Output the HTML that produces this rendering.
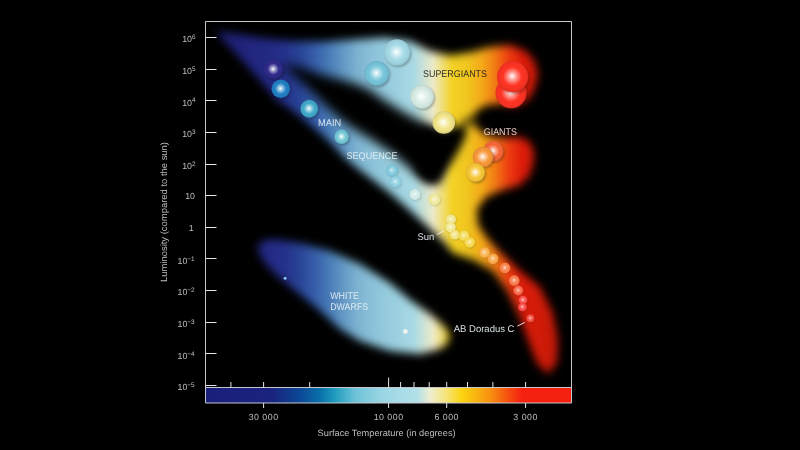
<!DOCTYPE html>
<html><head><meta charset="utf-8"><title>Hertzsprung-Russell Diagram</title>
<style>
html,body{margin:0;padding:0;background:#000;}
body{width:800px;height:450px;overflow:hidden;font-family:"Liberation Sans",sans-serif;}
svg{display:block}
text{font-family:"Liberation Sans",sans-serif;}
</style></head><body>
<svg width="800" height="450" viewBox="0 0 800 450" text-rendering="geometricPrecision">
<defs>
<linearGradient id="cg" gradientUnits="userSpaceOnUse" x1="205.5" y1="0" x2="571.5" y2="0"><stop offset="0.0000" stop-color="#1b1f7c"/><stop offset="0.1817" stop-color="#1a237e"/><stop offset="0.2582" stop-color="#0b4896"/><stop offset="0.3128" stop-color="#0a70aa"/><stop offset="0.3511" stop-color="#1c9abc"/><stop offset="0.4085" stop-color="#6cc2d8"/><stop offset="0.4768" stop-color="#98d4e2"/><stop offset="0.5314" stop-color="#a8dce8"/><stop offset="0.5779" stop-color="#b2e0e8"/><stop offset="0.6134" stop-color="#eeeed0"/><stop offset="0.6544" stop-color="#f6e680"/><stop offset="0.7008" stop-color="#fbd30f"/><stop offset="0.7445" stop-color="#f9b010"/><stop offset="0.7828" stop-color="#f78a10"/><stop offset="0.8265" stop-color="#f55010"/><stop offset="0.8648" stop-color="#f5200f"/><stop offset="1.0000" stop-color="#f5200f"/></linearGradient>
<linearGradient id="pg" gradientUnits="userSpaceOnUse" x1="205.5" y1="0" x2="571.5" y2="0"><stop offset="0.0000" stop-color="#1a1c66"/><stop offset="0.0943" stop-color="#20227a"/><stop offset="0.1762" stop-color="#232a84"/><stop offset="0.2172" stop-color="#25318c"/><stop offset="0.2582" stop-color="#284496"/><stop offset="0.2992" stop-color="#375eaa"/><stop offset="0.3347" stop-color="#4779b6"/><stop offset="0.3730" stop-color="#6196c4"/><stop offset="0.4139" stop-color="#7cb2d0"/><stop offset="0.4631" stop-color="#8ec4da"/><stop offset="0.5178" stop-color="#9bd0e0"/><stop offset="0.5697" stop-color="#aadae4"/><stop offset="0.6216" stop-color="#eceac8"/><stop offset="0.6735" stop-color="#f4d226"/><stop offset="0.7172" stop-color="#f0c41e"/><stop offset="0.7555" stop-color="#f4a818"/><stop offset="0.7910" stop-color="#f27a14"/><stop offset="0.8292" stop-color="#ec3c10"/><stop offset="0.8648" stop-color="#dc1c0a"/><stop offset="0.9276" stop-color="#cc1a08"/><stop offset="1.0000" stop-color="#c01808"/></linearGradient>
<filter id="bl" x="-20%" y="-20%" width="140%" height="140%"><feGaussianBlur stdDeviation="4.5"/></filter>
<filter id="bl2" x="-20%" y="-20%" width="140%" height="140%"><feGaussianBlur stdDeviation="4.5"/></filter>
<filter id="blL" x="-20%" y="-20%" width="140%" height="140%"><feGaussianBlur stdDeviation="5.5"/></filter>
<filter id="blR" x="-30%" y="-30%" width="160%" height="160%"><feGaussianBlur stdDeviation="4.5"/></filter>
<filter id="sb" x="-50%" y="-50%" width="200%" height="200%"><feGaussianBlur stdDeviation="1"/></filter>
<mask id="m" maskUnits="userSpaceOnUse" x="0" y="0" width="800" height="450">
<rect width="800" height="450" fill="#000"/>
<g filter="url(#bl)">
<path d="M217,31 L235,33.5 L265,38.5 L295,41 L325,41.5 L355,39.5 L385,37.5 L410,41 L430,51 L450,55.5 L470,52.5 L490,47 L510,45 L526,51 L535,62 L538,75 L534,90 L527,101 L514,106 L500,104 L487,105 L479,109 L474,115 L474,123 L479,130 L488,136 L505,138 L520,137 L530,142 L534,152 L534,160 L530,175 L520,185 L500,191 L486,197 L477,209 L478,225 L487,238 L499,251 L519,270 L540,287 L553,313 L558,340 L557,363 L548,374 L537,363 L528,340 L520,317 L507,290 L493,271 L474,260 L453,253 L445,243 L426,225 L405,206 L390,193 L373,180 L357,168 L345,158 L334,146 L320,133 L309,124 L296,113 L277,100 L258,78 L236,54 L219,36 Z" fill="#fff"/>
</g>
<g filter="url(#blL)"><path d="M281,64 L300,67 L320,74.5 L337,78.5 L356,84 L370,90 L384,100 L407,114 L425,123 L440,132 L440,184 L425,181 L410,169 L394,155 L372,140 L354,129 L340,119 L328,108 L318,98 L308,88 L297,78 Z" fill="#000"/></g>
<g filter="url(#blR)"><path d="M420,127 L440,129 L455,127 L462,125 L467,129 L465,138 L459,150 L452,162 L444,174 L436,183 L426,182 L416,172 Z" fill="#000"/><ellipse cx="471" cy="121" rx="10" ry="4.5" fill="#000" opacity="0.6" transform="rotate(-12 471 121)"/></g>
<g filter="url(#bl2)"><path d="M257,247 L262,241 L272,239 L300,243 L330,251 L360,264 L390,283 L410,300 L430,314 L444,326 L450,335 L447,344 L440,349 L420,354 L390,351 L360,341 L340,329 L318,309 L298,293 L277,276 L263,261 Z" fill="#fff"/></g>
</mask>
<clipPath id="cp"><rect x="205.5" y="21.5" width="366.0" height="366.0"/></clipPath>
<radialGradient id="s0" cx="0.5" cy="0.5" r="0.5" fx="0.48" fy="0.48"><stop offset="0" stop-color="#ffffff"/><stop offset="0.1" stop-color="#d6d5e8"/><stop offset="0.32" stop-color="#8784bc"/><stop offset="0.6" stop-color="#302b8c"/><stop offset="0.86" stop-color="#2e2986"/><stop offset="1" stop-color="#2b267d"/></radialGradient><radialGradient id="s1" cx="0.5" cy="0.5" r="0.5" fx="0.48" fy="0.48"><stop offset="0" stop-color="#ffffff"/><stop offset="0.1" stop-color="#d2e6f3"/><stop offset="0.32" stop-color="#7eb5dd"/><stop offset="0.6" stop-color="#2080c4"/><stop offset="0.86" stop-color="#1f7bbc"/><stop offset="1" stop-color="#1c72ae"/></radialGradient><radialGradient id="s2" cx="0.5" cy="0.5" r="0.5" fx="0.48" fy="0.48"><stop offset="0" stop-color="#ffffff"/><stop offset="0.1" stop-color="#d9eef4"/><stop offset="0.32" stop-color="#91cee0"/><stop offset="0.6" stop-color="#42aaca"/><stop offset="0.86" stop-color="#3fa3c2"/><stop offset="1" stop-color="#3b97b4"/></radialGradient><radialGradient id="s3" cx="0.5" cy="0.5" r="0.5" fx="0.48" fy="0.48"><stop offset="0" stop-color="#ffffff"/><stop offset="0.1" stop-color="#e3f4f7"/><stop offset="0.32" stop-color="#aedfe7"/><stop offset="0.6" stop-color="#74c8d6"/><stop offset="0.86" stop-color="#6fc0cd"/><stop offset="1" stop-color="#67b2be"/></radialGradient><radialGradient id="s4" cx="0.5" cy="0.5" r="0.5" fx="0.48" fy="0.48"><stop offset="0" stop-color="#ffffff"/><stop offset="0.1" stop-color="#e4f4f8"/><stop offset="0.32" stop-color="#b1deeb"/><stop offset="0.6" stop-color="#78c6dc"/><stop offset="0.86" stop-color="#73bed3"/><stop offset="1" stop-color="#6bb0c4"/></radialGradient><radialGradient id="s5" cx="0.5" cy="0.5" r="0.5" fx="0.48" fy="0.48"><stop offset="0" stop-color="#ffffff"/><stop offset="0.1" stop-color="#edf8fa"/><stop offset="0.32" stop-color="#caeaf0"/><stop offset="0.6" stop-color="#a4dae6"/><stop offset="0.86" stop-color="#9dd1dd"/><stop offset="1" stop-color="#92c2cd"/></radialGradient><radialGradient id="s6" cx="0.5" cy="0.5" r="0.5" fx="0.48" fy="0.48"><stop offset="0" stop-color="#ffffff"/><stop offset="0.1" stop-color="#f7fbfa"/><stop offset="0.32" stop-color="#e8f4f0"/><stop offset="0.6" stop-color="#d8ece6"/><stop offset="0.86" stop-color="#cfe3dd"/><stop offset="1" stop-color="#c0d2cd"/></radialGradient><radialGradient id="s7" cx="0.5" cy="0.5" r="0.5" fx="0.48" fy="0.48"><stop offset="0" stop-color="#ffffff"/><stop offset="0.1" stop-color="#fcfae8"/><stop offset="0.32" stop-color="#f7f0bb"/><stop offset="0.6" stop-color="#f2e58a"/><stop offset="0.86" stop-color="#e8dc84"/><stop offset="1" stop-color="#d7cc7b"/></radialGradient><radialGradient id="s8" cx="0.5" cy="0.5" r="0.5" fx="0.48" fy="0.48"><stop offset="0" stop-color="#ffffff"/><stop offset="0.1" stop-color="#ffd6d3"/><stop offset="0.32" stop-color="#ff8980"/><stop offset="0.6" stop-color="#ff3424"/><stop offset="0.86" stop-color="#f53223"/><stop offset="1" stop-color="#e32e20"/></radialGradient><radialGradient id="s9" cx="0.5" cy="0.5" r="0.5" fx="0.48" fy="0.48"><stop offset="0" stop-color="#ffffff"/><stop offset="0.1" stop-color="#ffd6d3"/><stop offset="0.32" stop-color="#ff8980"/><stop offset="0.6" stop-color="#ff3424"/><stop offset="0.86" stop-color="#f53223"/><stop offset="1" stop-color="#e32e20"/></radialGradient><radialGradient id="s10" cx="0.5" cy="0.5" r="0.5" fx="0.48" fy="0.48"><stop offset="0" stop-color="#ffffff"/><stop offset="0.1" stop-color="#fee1d8"/><stop offset="0.32" stop-color="#fba78d"/><stop offset="0.6" stop-color="#f8683a"/><stop offset="0.86" stop-color="#ee6438"/><stop offset="1" stop-color="#dd5d34"/></radialGradient><radialGradient id="s11" cx="0.5" cy="0.5" r="0.5" fx="0.48" fy="0.48"><stop offset="0" stop-color="#ffffff"/><stop offset="0.1" stop-color="#feead8"/><stop offset="0.32" stop-color="#fbc38d"/><stop offset="0.6" stop-color="#f8983a"/><stop offset="0.86" stop-color="#ee9238"/><stop offset="1" stop-color="#dd8734"/></radialGradient><radialGradient id="s12" cx="0.5" cy="0.5" r="0.5" fx="0.48" fy="0.48"><stop offset="0" stop-color="#ffffff"/><stop offset="0.1" stop-color="#fef4d8"/><stop offset="0.32" stop-color="#fbdf8d"/><stop offset="0.6" stop-color="#f8c83a"/><stop offset="0.86" stop-color="#eec038"/><stop offset="1" stop-color="#ddb234"/></radialGradient><radialGradient id="s13" cx="0.5" cy="0.5" r="0.5" fx="0.47" fy="0.45"><stop offset="0" stop-color="#daeff5"/><stop offset="0.3" stop-color="#a3d7e5"/><stop offset="0.65" stop-color="#83c9dc"/><stop offset="0.9" stop-color="#7cc6da"/><stop offset="1" stop-color="#72b6c9"/></radialGradient><radialGradient id="s14" cx="0.5" cy="0.5" r="0.5" fx="0.47" fy="0.45"><stop offset="0" stop-color="#dff2f6"/><stop offset="0.3" stop-color="#aedde9"/><stop offset="0.65" stop-color="#92d1e2"/><stop offset="0.9" stop-color="#8ccfe0"/><stop offset="1" stop-color="#81bece"/></radialGradient><radialGradient id="s15" cx="0.5" cy="0.5" r="0.5" fx="0.47" fy="0.45"><stop offset="0" stop-color="#f2f9f8"/><stop offset="0.3" stop-color="#ddefee"/><stop offset="0.65" stop-color="#d1e9e7"/><stop offset="0.9" stop-color="#cfe8e6"/><stop offset="1" stop-color="#bed5d4"/></radialGradient><radialGradient id="s16" cx="0.5" cy="0.5" r="0.5" fx="0.47" fy="0.45"><stop offset="0" stop-color="#faf9e3"/><stop offset="0.3" stop-color="#f3efb8"/><stop offset="0.65" stop-color="#efe99f"/><stop offset="0.9" stop-color="#eee89a"/><stop offset="1" stop-color="#dbd58e"/></radialGradient><radialGradient id="s17" cx="0.5" cy="0.5" r="0.5" fx="0.47" fy="0.45"><stop offset="0" stop-color="#fbf8df"/><stop offset="0.3" stop-color="#f4eeae"/><stop offset="0.65" stop-color="#f1e792"/><stop offset="0.9" stop-color="#f0e68c"/><stop offset="1" stop-color="#ddd481"/></radialGradient><radialGradient id="s18" cx="0.5" cy="0.5" r="0.5" fx="0.47" fy="0.45"><stop offset="0" stop-color="#fbf9df"/><stop offset="0.3" stop-color="#f5efb0"/><stop offset="0.65" stop-color="#f2e994"/><stop offset="0.9" stop-color="#f1e88e"/><stop offset="1" stop-color="#ded583"/></radialGradient><radialGradient id="s19" cx="0.5" cy="0.5" r="0.5" fx="0.47" fy="0.45"><stop offset="0" stop-color="#fbf7da"/><stop offset="0.3" stop-color="#f6eba2"/><stop offset="0.65" stop-color="#f3e481"/><stop offset="0.9" stop-color="#f2e37a"/><stop offset="1" stop-color="#dfd170"/></radialGradient><radialGradient id="s20" cx="0.5" cy="0.5" r="0.5" fx="0.47" fy="0.45"><stop offset="0" stop-color="#fcf5cf"/><stop offset="0.3" stop-color="#f7e688"/><stop offset="0.65" stop-color="#f5de5e"/><stop offset="0.9" stop-color="#f4dc55"/><stop offset="1" stop-color="#e0ca4e"/></radialGradient><radialGradient id="s21" cx="0.5" cy="0.5" r="0.5" fx="0.47" fy="0.45"><stop offset="0" stop-color="#fcf4cc"/><stop offset="0.3" stop-color="#f9e27f"/><stop offset="0.65" stop-color="#f6d851"/><stop offset="0.9" stop-color="#f6d648"/><stop offset="1" stop-color="#e2c542"/></radialGradient><radialGradient id="s22" cx="0.5" cy="0.5" r="0.5" fx="0.47" fy="0.45"><stop offset="0" stop-color="#fde9cc"/><stop offset="0.3" stop-color="#fac87f"/><stop offset="0.65" stop-color="#f8b451"/><stop offset="0.9" stop-color="#f8b048"/><stop offset="1" stop-color="#e4a242"/></radialGradient><radialGradient id="s23" cx="0.5" cy="0.5" r="0.5" fx="0.47" fy="0.45"><stop offset="0" stop-color="#fde6cb"/><stop offset="0.3" stop-color="#fabf7c"/><stop offset="0.65" stop-color="#f8a94d"/><stop offset="0.9" stop-color="#f8a444"/><stop offset="1" stop-color="#e4973f"/></radialGradient><radialGradient id="s24" cx="0.5" cy="0.5" r="0.5" fx="0.47" fy="0.45"><stop offset="0" stop-color="#fddbcb"/><stop offset="0.3" stop-color="#faa57c"/><stop offset="0.65" stop-color="#f8844d"/><stop offset="0.9" stop-color="#f87e44"/><stop offset="1" stop-color="#e4743f"/></radialGradient><radialGradient id="s25" cx="0.5" cy="0.5" r="0.5" fx="0.47" fy="0.45"><stop offset="0" stop-color="#fdd8cb"/><stop offset="0.3" stop-color="#fa9e7c"/><stop offset="0.65" stop-color="#f87b4d"/><stop offset="0.9" stop-color="#f87444"/><stop offset="1" stop-color="#e46b3f"/></radialGradient><radialGradient id="s26" cx="0.5" cy="0.5" r="0.5" fx="0.47" fy="0.45"><stop offset="0" stop-color="#fdd4cb"/><stop offset="0.3" stop-color="#fa927c"/><stop offset="0.65" stop-color="#f86c4d"/><stop offset="0.9" stop-color="#f86444"/><stop offset="1" stop-color="#e45c3f"/></radialGradient><radialGradient id="s27" cx="0.5" cy="0.5" r="0.5" fx="0.47" fy="0.45"><stop offset="0" stop-color="#fdcccb"/><stop offset="0.3" stop-color="#fa807c"/><stop offset="0.65" stop-color="#f8534d"/><stop offset="0.9" stop-color="#f84a44"/><stop offset="1" stop-color="#e4443f"/></radialGradient><radialGradient id="s28" cx="0.5" cy="0.5" r="0.5" fx="0.47" fy="0.45"><stop offset="0" stop-color="#fdcbca"/><stop offset="0.3" stop-color="#fa7c79"/><stop offset="0.65" stop-color="#f84d4a"/><stop offset="0.9" stop-color="#f84440"/><stop offset="1" stop-color="#e43f3b"/></radialGradient><radialGradient id="s29" cx="0.5" cy="0.5" r="0.5" fx="0.47" fy="0.45"><stop offset="0" stop-color="#fbccc8"/><stop offset="0.3" stop-color="#f68075"/><stop offset="0.65" stop-color="#f35344"/><stop offset="0.9" stop-color="#f24a3a"/><stop offset="1" stop-color="#df4435"/></radialGradient>
</defs>
<rect width="800" height="450" fill="#000"/>
<g clip-path="url(#cp)">
<rect x="205.5" y="21.5" width="366.0" height="366.0" fill="url(#pg)" mask="url(#m)"/>
<circle cx="274.9" cy="70.95" r="9.3" fill="#0b091f" opacity="0.34" filter="url(#sb)"/><circle cx="273.4" cy="69.25" r="9.5" fill="url(#s0)"/><circle cx="282.25" cy="90.45" r="9.100000000000001" fill="#071c2b" opacity="0.34" filter="url(#sb)"/><circle cx="280.75" cy="88.75" r="9.3" fill="url(#s1)"/><circle cx="310.75" cy="110.45" r="8.700000000000001" fill="#0f252c" opacity="0.34" filter="url(#sb)"/><circle cx="309.25" cy="108.75" r="8.9" fill="url(#s2)"/><circle cx="343.1" cy="138.5" r="7.0" fill="#1a2c2f" opacity="0.34" filter="url(#sb)"/><circle cx="341.6" cy="136.8" r="7.2" fill="url(#s3)"/><circle cx="378.25" cy="75.10000000000001" r="12.100000000000001" fill="#1a2c30" opacity="0.34" filter="url(#sb)"/><circle cx="376.75" cy="73.4" r="12.3" fill="url(#s4)"/><circle cx="398.5" cy="54.1" r="13.0" fill="#243033" opacity="0.34" filter="url(#sb)"/><circle cx="397" cy="52.4" r="13.2" fill="url(#s5)"/><circle cx="423.5" cy="98.5" r="11.700000000000001" fill="#303433" opacity="0.34" filter="url(#sb)"/><circle cx="422" cy="96.8" r="11.9" fill="url(#s6)"/><circle cx="445.25" cy="124.2" r="11.100000000000001" fill="#35321e" opacity="0.34" filter="url(#sb)"/><circle cx="443.75" cy="122.5" r="11.3" fill="url(#s7)"/><circle cx="512.5" cy="94.5" r="15.3" fill="#380b08" opacity="0.34" filter="url(#sb)"/><circle cx="511" cy="92.8" r="15.5" fill="url(#s8)"/><circle cx="514.2" cy="78.4" r="15.4" fill="#380b08" opacity="0.34" filter="url(#sb)"/><circle cx="512.7" cy="76.7" r="15.6" fill="url(#s9)"/><circle cx="494.75" cy="152.95" r="10.100000000000001" fill="#37170d" opacity="0.34" filter="url(#sb)"/><circle cx="493.25" cy="151.25" r="10.3" fill="url(#s10)"/><circle cx="484.5" cy="158.7" r="10.100000000000001" fill="#37210d" opacity="0.34" filter="url(#sb)"/><circle cx="483" cy="157" r="10.3" fill="url(#s11)"/><circle cx="477.0" cy="174.2" r="9.3" fill="#372c0d" opacity="0.34" filter="url(#sb)"/><circle cx="475.5" cy="172.5" r="9.5" fill="url(#s12)"/><circle cx="392.8" cy="171.4" r="5.8" fill="#1b2c30" opacity="0.2" filter="url(#sb)"/><circle cx="392" cy="170.5" r="6.0" fill="url(#s13)"/><circle cx="396.3" cy="182.65" r="5.6000000000000005" fill="#1f2e31" opacity="0.2" filter="url(#sb)"/><circle cx="395.5" cy="181.75" r="5.800000000000001" fill="url(#s14)"/><circle cx="415.8" cy="195.4" r="5.4" fill="#2e3333" opacity="0.2" filter="url(#sb)"/><circle cx="415" cy="194.5" r="5.6000000000000005" fill="url(#s15)"/><circle cx="435.3" cy="200.4" r="5.7" fill="#343322" opacity="0.2" filter="url(#sb)"/><circle cx="434.5" cy="199.5" r="5.9" fill="url(#s16)"/><circle cx="451.8" cy="220.3" r="4.8" fill="#35331f" opacity="0.2" filter="url(#sb)"/><circle cx="451" cy="219.4" r="5.0" fill="url(#s17)"/><circle cx="451.40000000000003" cy="228.20000000000002" r="5.0" fill="#35331f" opacity="0.2" filter="url(#sb)"/><circle cx="450.6" cy="227.3" r="5.2" fill="url(#s18)"/><circle cx="455.5" cy="235.6" r="4.8" fill="#35321b" opacity="0.2" filter="url(#sb)"/><circle cx="454.7" cy="234.7" r="5.0" fill="url(#s19)"/><circle cx="464.8" cy="236.6" r="5.2" fill="#363013" opacity="0.2" filter="url(#sb)"/><circle cx="464" cy="235.7" r="5.4" fill="url(#s20)"/><circle cx="470.40000000000003" cy="243.20000000000002" r="5.2" fill="#362f10" opacity="0.2" filter="url(#sb)"/><circle cx="469.6" cy="242.3" r="5.4" fill="url(#s21)"/><circle cx="485.3" cy="253.4" r="5.2" fill="#372710" opacity="0.2" filter="url(#sb)"/><circle cx="484.5" cy="252.5" r="5.4" fill="url(#s22)"/><circle cx="493.8" cy="259.65" r="5.2" fill="#37240f" opacity="0.2" filter="url(#sb)"/><circle cx="493" cy="258.75" r="5.4" fill="url(#s23)"/><circle cx="505.8" cy="268.9" r="5.2" fill="#371c0f" opacity="0.2" filter="url(#sb)"/><circle cx="505" cy="268" r="5.4" fill="url(#s24)"/><circle cx="515.05" cy="281.4" r="5.2" fill="#371a0f" opacity="0.2" filter="url(#sb)"/><circle cx="514.25" cy="280.5" r="5.4" fill="url(#s25)"/><circle cx="519.05" cy="291.4" r="4.7" fill="#37160f" opacity="0.2" filter="url(#sb)"/><circle cx="518.25" cy="290.5" r="4.9" fill="url(#s26)"/><circle cx="523.8" cy="300.9" r="4.2" fill="#37100f" opacity="0.2" filter="url(#sb)"/><circle cx="523" cy="300" r="4.4" fill="url(#s27)"/><circle cx="523.3" cy="307.9" r="4.2" fill="#370f0e" opacity="0.2" filter="url(#sb)"/><circle cx="522.5" cy="307" r="4.4" fill="url(#s28)"/><circle cx="531.1999999999999" cy="319.09999999999997" r="3.8" fill="#35100d" opacity="0.2" filter="url(#sb)"/><circle cx="530.4" cy="318.2" r="4.0" fill="url(#s29)"/>
<circle cx="285.1" cy="278.2" r="1.5" fill="#7fc4f0"/>
<circle cx="405.4" cy="331.4" r="2.3" fill="#f4f4ee"/>
</g>
<rect x="205.5" y="387.5" width="366.0" height="15.5" fill="url(#cg)"/>
<g stroke="#c6c6d0" stroke-width="1" fill="none">
<path d="M205.5,403.0 L205.5,21.5 L571.5,21.5 L571.5,403.0 Z"/>
<line x1="205.5" y1="387.5" x2="571.5" y2="387.5"/>
</g>
<g stroke="#e4e4e4" stroke-width="1"><line x1="205.5" y1="37.5" x2="216.5" y2="37.5"/><line x1="205.5" y1="69.5" x2="216.5" y2="69.5"/><line x1="205.5" y1="100.5" x2="216.5" y2="100.5"/><line x1="205.5" y1="132.5" x2="216.5" y2="132.5"/><line x1="205.5" y1="164.5" x2="216.5" y2="164.5"/><line x1="205.5" y1="195.5" x2="216.5" y2="195.5"/><line x1="205.5" y1="227.5" x2="216.5" y2="227.5"/><line x1="205.5" y1="258.5" x2="216.5" y2="258.5"/><line x1="205.5" y1="290.5" x2="216.5" y2="290.5"/><line x1="205.5" y1="322.5" x2="216.5" y2="322.5"/><line x1="205.5" y1="353.5" x2="216.5" y2="353.5"/><line x1="205.5" y1="385.5" x2="216.5" y2="385.5"/><line x1="230.9" y1="382" x2="230.9" y2="387.5"/><line x1="309.7" y1="382" x2="309.7" y2="387.5"/><line x1="400.6" y1="382" x2="400.6" y2="387.5"/><line x1="414.0" y1="382" x2="414.0" y2="387.5"/><line x1="429.2" y1="382" x2="429.2" y2="387.5"/><line x1="467.5" y1="382" x2="467.5" y2="387.5"/><line x1="492.9" y1="382" x2="492.9" y2="387.5"/><line x1="263.6" y1="382" x2="263.6" y2="387.5"/><line x1="263.6" y1="403.0" x2="263.6" y2="408"/><line x1="446.7" y1="382" x2="446.7" y2="387.5"/><line x1="446.7" y1="403.0" x2="446.7" y2="408"/><line x1="525.6" y1="382" x2="525.6" y2="387.5"/><line x1="525.6" y1="403.0" x2="525.6" y2="408"/><line x1="388.6" y1="377.5" x2="388.6" y2="387.5"/><line x1="388.6" y1="403.0" x2="388.6" y2="408"/></g>
<g opacity="0.93">
<g fill="#cdcdcd" font-size="8.8"><text x="195.5" y="42.3" text-anchor="end">10<tspan dy="-3.2" font-size="6.4">6</tspan></text><text x="195.5" y="73.9" text-anchor="end">10<tspan dy="-3.2" font-size="6.4">5</tspan></text><text x="195.5" y="105.6" text-anchor="end">10<tspan dy="-3.2" font-size="6.4">4</tspan></text><text x="195.5" y="137.2" text-anchor="end">10<tspan dy="-3.2" font-size="6.4">3</tspan></text><text x="195.5" y="168.9" text-anchor="end">10<tspan dy="-3.2" font-size="6.4">2</tspan></text><text x="195" y="199.2" text-anchor="end">10</text><text x="193.6" y="230.8" text-anchor="end">1</text><text x="194.6" y="263.8" text-anchor="end">10<tspan dy="-3.2" font-size="6.4">−1</tspan></text><text x="194.6" y="295.4" text-anchor="end">10<tspan dy="-3.2" font-size="6.4">−2</tspan></text><text x="194.6" y="327.1" text-anchor="end">10<tspan dy="-3.2" font-size="6.4">−3</tspan></text><text x="194.6" y="358.7" text-anchor="end">10<tspan dy="-3.2" font-size="6.4">−4</tspan></text><text x="194.6" y="390.3" text-anchor="end">10<tspan dy="-3.2" font-size="6.4">−5</tspan></text><text x="263.6" y="420.2" text-anchor="middle" letter-spacing="0.5">30 000</text><text x="388.6" y="420.2" text-anchor="middle" letter-spacing="0.5">10 000</text><text x="446.7" y="420.2" text-anchor="middle" letter-spacing="0.5">6 000</text><text x="525.6" y="420.2" text-anchor="middle" letter-spacing="0.5">3 000</text></g>
<g fill="#cdcdcd" font-size="9.2">
<text x="386.6" y="436.2" text-anchor="middle" textLength="138" lengthAdjust="spacingAndGlyphs">Surface Temperature (in degrees)</text>
<text transform="translate(167.2,212) rotate(-90)" text-anchor="middle" textLength="140" lengthAdjust="spacingAndGlyphs">Luminosity (compared to the sun)</text>
</g>
<g font-size="9.7" fill="#e6eef2">
<text x="318" y="126" textLength="23.3" lengthAdjust="spacingAndGlyphs">MAIN</text>
<text x="346.5" y="159" textLength="51" lengthAdjust="spacingAndGlyphs">SEQUENCE</text>
<text x="423" y="77.2" fill="#1c1c1c" textLength="64" lengthAdjust="spacingAndGlyphs">SUPERGIANTS</text>
<text x="483.7" y="134.7" fill="#f6dcd6" textLength="33.3" lengthAdjust="spacingAndGlyphs">GIANTS</text>
<text x="330.2" y="299" textLength="28.7" lengthAdjust="spacingAndGlyphs">WHITE</text>
<text x="330.2" y="310" textLength="38" lengthAdjust="spacingAndGlyphs">DWARFS</text>
<text x="417.5" y="240" textLength="16.8" lengthAdjust="spacingAndGlyphs">Sun</text>
<text x="453.7" y="331.6" textLength="60.8" lengthAdjust="spacingAndGlyphs">AB Doradus C</text>
</g>
</g>
<g stroke="#f0f0f0" stroke-width="0.9">
<line x1="437.2" y1="234.5" x2="443.9" y2="230.7"/>
<line x1="517.4" y1="326.1" x2="524.8" y2="322.4"/>
</g>
</svg>
</body></html>
